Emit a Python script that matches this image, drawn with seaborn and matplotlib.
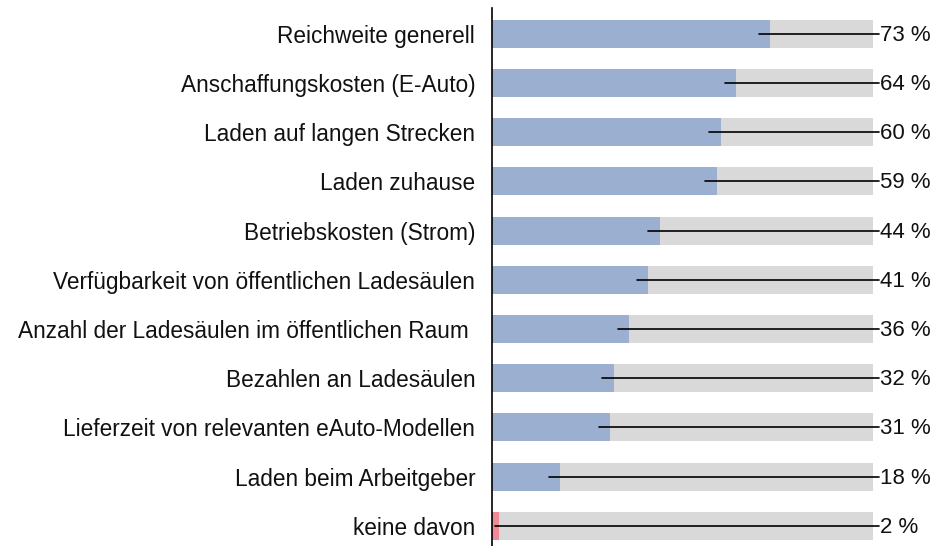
import numpy as np
import pandas as pd
import matplotlib
matplotlib.use("Agg")
import matplotlib.pyplot as plt
import seaborn as sb

# Hemmnisse beim E-Auto (Anteil der Nennungen in %)
kategorien = ["Reichweite generell", "Anschaffungskosten (E-Auto)", "Laden auf langen Strecken",
              "Laden zuhause", "Betriebskosten (Strom)", "Verfügbarkeit von öffentlichen Ladesäulen",
              "Anzahl der Ladesäulen im öffentlichen Raum ", "Bezahlen an Ladesäulen",
              "Lieferzeit von relevanten eAuto-Modellen", "Laden beim Arbeitgeber", "keine davon"]
werte = [73, 64, 60, 59, 44, 41, 36, 32, 31, 18, 2]

sb.set_style("white")
plt.rcParams['font.family'] = ['Liberation Sans', 'DejaVu Sans']

data = pd.DataFrame({"Kategorie": kategorien, "Wert": werte, "Gesamt": 100})
farben = ["#9BAFD0"] * (len(werte) - 1) + ["#EF8A96"]

fig = plt.figure(figsize=(9.35, 5.46), dpi=100)
ax = fig.add_axes([0.526, 0.0, 0.408, 0.985])

sb.barplot(data=data, y="Kategorie", x="Gesamt", color="#D9D9D9", width=0.57, ax=ax,
           orient="h", saturation=1, linewidth=0)
sb.barplot(data=data, y="Kategorie", x="Wert", hue="Kategorie", palette=farben, width=0.57,
           ax=ax, orient="h", legend=False, saturation=1, linewidth=0)

# Linie von kurz vor Balkenende bis zum Label
for i, w in enumerate(werte):
    ax.plot([max(w - 3, 0.8), 101.5], [i, i], color="black", lw=1.2, clip_on=False, zorder=5)
    ax.text(101.8, i + 0.03, f"{w} %", va="center", ha="left", fontsize=16, color="#111111")

ax.set_xlim(0, 100)
ax.set_ylim(10.41, -0.52)
ax.set_xlabel("")
ax.set_ylabel("")
ax.set_xticks([])
ax.tick_params(axis="y", length=0, pad=12, labelsize=16.3, labelcolor="#111111")
for s in ["top", "right", "bottom"]:
    ax.spines[s].set_visible(False)
ax.spines["left"].set_color("black")
ax.spines["left"].set_linewidth(1.2)
ax.spines["left"].set_zorder(6)

fig.savefig("out.png", dpi=100)
